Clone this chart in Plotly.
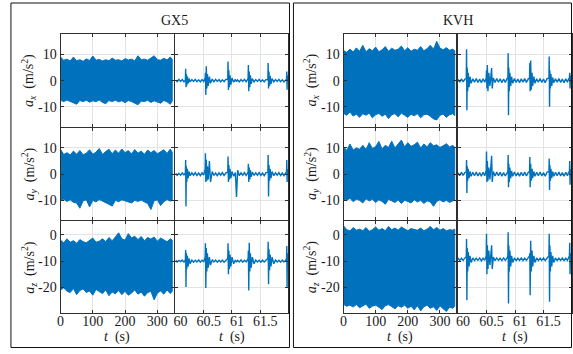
import plotly.graph_objects as go

# ---------------- data ----------------
# long record: envelope (upper / lower) of the dense signal, read every 10 s
t_long = [0, 10, 20, 30, 40, 50, 60, 70, 80, 90,
          100, 110, 120, 130, 140, 150, 160, 170, 180, 190,
          200, 210, 220, 230, 240, 250, 260, 270, 280, 290,
          300, 310, 320, 330, 340, 346]

gx5_ax_up = [9.0, 7.8, 8.2, 7.5, 9.0, 7.6, 8.0, 7.4, 8.3, 7.7,
             9.4, 7.8, 8.1, 7.5, 8.0, 7.6, 8.6, 7.8, 8.0, 7.5,
             8.4, 7.9, 8.2, 7.6, 9.5, 8.0, 8.2, 7.8, 8.6, 9.5,
             8.0, 7.8, 8.5, 7.9, 9.0, 8.2]
gx5_ax_lo = [-7.5, -8.0, -7.4, -7.8, -8.5, -9.0, -7.6, -8.0, -7.5, -8.2,
             -7.7, -8.0, -7.4, -8.3, -8.8, -7.6, -8.0, -7.5, -8.1, -7.7,
             -8.4, -7.6, -8.0, -8.5, -9.2, -7.8, -8.0, -7.5, -8.3, -7.7,
             -8.0, -8.6, -7.6, -8.1, -9.0, -7.8]
gx5_ay_up = [9.5, 7.5, 8.2, 7.3, 8.8, 7.6, 9.0, 7.4, 8.0, 9.3,
             7.6, 8.4, 9.8, 7.5, 8.6, 9.5, 7.8, 9.2, 8.0, 9.6,
             8.2, 9.0, 7.7, 9.4, 8.0, 8.8, 7.6, 9.2, 8.2, 9.0,
             7.8, 8.5, 9.3, 7.9, 9.6, 8.4]
gx5_ay_lo = [-10.0, -9.6, -10.4, -9.8, -10.8, -11.0, -13.0, -10.2, -9.8, -12.5,
             -10.0, -10.6, -9.7, -10.3, -10.8, -11.5, -12.2, -10.0, -10.5, -9.8,
             -10.2, -10.7, -11.0, -10.0, -10.4, -9.9, -10.6, -11.2, -13.5, -10.2,
             -9.8, -12.0, -10.5, -9.7, -10.3, -10.0]
gx5_az_up = [-2.0, -3.0, -1.5, -2.8, -2.2, -3.2, -1.8, -2.6, -3.0, -2.0,
             -1.2, -2.8, -2.4, -1.5, -2.6, -1.0, -2.2, -0.8, 0.8, -1.5,
             -2.0, 0.5, -1.2, -0.5, -1.8, -0.6, -2.2, -1.0, -1.6, -0.8,
             -2.4, -1.2, -1.8, -2.6, -1.5, -2.0]
gx5_az_lo = [-21.0, -20.2, -21.5, -22.0, -20.5, -22.8, -21.2, -20.6, -22.0, -21.4,
             -23.0, -20.8, -21.6, -22.4, -21.0, -23.2, -21.8, -22.5, -21.2, -22.8,
             -21.5, -23.0, -22.2, -21.0, -22.6, -21.8, -23.4, -22.0, -21.5, -24.8,
             -22.2, -21.4, -22.6, -21.0, -22.4, -21.5]

kvh_ax_up = [11.5, 10.8, 12.0, 11.0, 12.5, 11.2, 13.5, 11.0, 12.2, 11.4,
             12.8, 11.0, 11.8, 13.0, 11.2, 12.4, 11.6, 12.0, 13.2, 11.4,
             12.6, 11.2, 12.0, 11.6, 13.0, 11.4, 12.2, 13.5, 12.0, 15.0,
             12.4, 11.8, 12.6, 11.6, 12.0, 11.4]
kvh_ax_lo = [-12.5, -13.2, -12.0, -13.5, -12.8, -14.0, -12.6, -13.2, -12.4, -14.2,
             -13.0, -12.5, -13.6, -12.8, -14.5, -13.0, -12.6, -13.8, -12.4, -13.2,
             -14.0, -12.8, -13.4, -12.6, -14.2, -13.0, -12.8, -13.6, -14.6, -15.0,
             -13.2, -12.8, -14.0, -13.0, -12.6, -13.4]
kvh_ay_up = [10.5, 9.0, 11.5, 9.2, 10.0, 9.5, 11.0, 9.4, 12.0, 9.8,
             10.5, 12.5, 9.6, 11.0, 10.2, 12.6, 10.0, 11.4, 13.0, 10.4,
             12.0, 10.6, 11.2, 12.2, 10.0, 11.5, 10.4, 12.0, 10.8, 11.2,
             10.2, 10.8, 11.6, 10.4, 11.0, 10.2]
kvh_ay_lo = [-9.5, -10.0, -9.2, -10.5, -9.6, -10.0, -11.0, -9.4, -10.2, -9.6,
             -10.8, -9.8, -10.4, -11.5, -9.6, -10.2, -10.8, -9.8, -11.2, -10.0,
             -10.4, -11.0, -9.8, -10.6, -10.0, -11.2, -10.2, -10.6, -12.3, -10.4,
             -9.8, -10.6, -10.0, -10.8, -10.2, -9.8]
kvh_az_up = [3.5, 2.0, 1.5, 2.8, 1.8, 2.2, 1.6, 2.8, 1.4, 2.0,
             3.0, 1.8, 2.4, 1.6, 3.2, 2.0, 2.6, 1.8, 3.0, 2.2,
             1.6, 2.4, 2.0, 1.8, 2.6, 1.6, 2.2, 3.2, 2.0, 2.8,
             1.8, 2.4, 1.6, 2.0, 1.8, 2.2]
kvh_az_lo = [-26.5, -27.2, -26.8, -27.5, -26.6, -27.8, -27.0, -26.4, -28.0, -27.2,
             -26.8, -27.6, -28.5, -27.0, -26.6, -27.4, -28.2, -27.0, -27.6, -26.8,
             -28.0, -27.2, -28.6, -27.0, -29.0, -27.4, -26.8, -28.0, -27.4, -28.8,
             -27.0, -28.2, -29.2, -27.6, -28.0, -27.2]

# zoomed window 60 - 62 s
gx5_t_zoom = [60.00, 60.03, 60.06, 60.09, 60.12, 60.15,
              60.175, 60.18, 60.186, 60.192, 60.2, 60.21, 60.225, 60.24, 60.26,
              60.29, 60.32, 60.35, 60.38, 60.41, 60.44, 60.47, 60.50,
              60.525, 60.53, 60.537, 60.545, 60.555, 60.565, 60.58, 60.6, 60.62, 60.65,
              60.68, 60.71, 60.74, 60.77, 60.80, 60.83, 60.86, 60.89,
              60.925, 60.93, 60.937, 60.945, 60.955, 60.965, 60.98, 61.0, 61.03,
              61.06, 61.08, 61.1, 61.13, 61.16, 61.19, 61.22, 61.25,
              61.285, 61.29, 61.297, 61.305, 61.315, 61.325, 61.34, 61.36, 61.39,
              61.42, 61.45, 61.48, 61.51, 61.54, 61.57, 61.6,
              61.635, 61.64, 61.647, 61.655, 61.665, 61.675, 61.69, 61.71, 61.74,
              61.77, 61.8, 61.83, 61.86, 61.89, 61.92, 61.95,
              61.965, 61.97, 61.975, 61.98]
gx5_ax_zoom = [0.3, -0.4, 0.5, -0.3, 0.4, -0.5,
               0.2, 4.5, -2.5, 2.5, -1.8, 1.6, -1.0, 0.8, -0.5,
               0.4, -0.3, 0.5, -0.4, 0.3, -0.5, 0.4, -0.3,
               1.0, 3.0, -5.5, 5.5, -3.0, 2.5, -2.0, 1.5, -1.0, 0.6,
               -0.4, 0.5, -0.3, 0.4, -0.5, 0.3, -0.4, 0.5,
               0.5, 7.3, -3.6, 4.0, -2.5, 2.0, -1.5, 1.0, -0.6,
               0.5, -0.4, 0.3, -0.5, 0.4, -0.3, 0.5, -0.4,
               0.8, 6.0, -4.0, 3.5, -2.5, 2.0, -1.2, 0.8, -0.5,
               0.4, -0.3, 0.5, -0.4, 0.3, -0.5, 0.4,
               0.5, 6.7, -3.0, 3.5, -2.0, 1.8, -1.2, 0.8, -0.5,
               0.4, -0.3, 0.5, -0.4, 0.3, -0.5, 0.4,
               0.5, 3.5, -3.5, 2.0]
gx5_ay_zoom = [0.4, -0.5, 0.3, -0.4, 0.5, -0.3,
               0.5, 5.4, -12.3, 3.0, -3.0, 2.0, -1.5, 1.0, -0.6,
               0.5, -0.4, 0.6, -0.5, 0.4, -0.6, 0.5, -0.4,
               2.0, 8.0, -3.0, 5.5, -2.5, 3.0, -2.0, 5.0, -3.0, 1.0,
               -0.5, 0.4, -0.6, 0.5, -0.4, 0.6, -0.5, 0.4,
               0.8, 6.7, -3.0, 3.5, -2.0, 2.0, -1.5, 1.0, -0.8,
               0.6, -8.7, 1.5, -0.6, 0.5, -0.4, 0.6, -0.5,
               0.8, 4.0, -3.0, 2.5, -2.0, 1.5, -1.0, 0.8, -0.5,
               0.5, -0.4, 0.6, -0.5, 0.4, -0.6, 0.5,
               0.8, 7.3, -8.5, 3.5, -2.5, 2.0, -1.5, 1.0, -0.6,
               0.5, -0.4, 0.6, -0.5, 0.4, -0.6, 0.5,
               0.8, 5.4, -3.0, 2.0]
gx5_az_zoom = [-9.6, -10.3, -9.7, -10.2, -9.6, -10.4,
               -9.5, -5.8, -19.9, -7.0, -13.0, -8.0, -12.0, -9.0, -11.0,
               -9.6, -10.4, -9.7, -10.3, -9.5, -10.4, -9.7, -10.2,
               -8.5, -3.2, -20.3, -5.0, -14.0, -7.0, -12.5, -8.5, -11.5, -9.5,
               -10.3, -9.6, -10.4, -9.7, -10.3, -9.6, -10.4, -9.7,
               -9.0, -3.2, -15.0, -6.0, -13.0, -7.5, -12.0, -8.5, -11.0,
               -9.6, -10.4, -9.7, -10.3, -9.5, -10.4, -9.7, -10.3,
               -9.0, -6.0, -21.2, -3.0, -14.0, -7.0, -12.5, -8.5, -11.0,
               -9.6, -10.3, -9.7, -10.4, -9.6, -10.3, -9.7,
               -9.0, -2.6, -18.8, -5.5, -13.5, -7.5, -12.0, -8.5, -11.0,
               -9.6, -10.3, -9.7, -10.4, -9.6, -10.3, -9.7,
               -9.0, -4.2, -20.0, -7.0]

kvh_t_zoom = [60.00, 60.03, 60.06, 60.09, 60.12,
              60.145, 60.15, 60.156, 60.162, 60.17, 60.18, 60.195, 60.21, 60.23,
              60.26, 60.29, 60.32, 60.35, 60.38, 60.41, 60.44, 60.47,
              60.495, 60.5, 60.507, 60.515, 60.525, 60.54, 60.56, 60.59, 60.6, 60.62,
              60.65, 60.68, 60.71, 60.74, 60.77, 60.8, 60.83, 60.86,
              60.875, 60.88, 60.886, 60.892, 60.9, 60.91, 60.925, 60.94, 60.96,
              60.99, 61.02, 61.05, 61.08, 61.11, 61.14, 61.17, 61.2, 61.23,
              61.255, 61.26, 61.266, 61.275, 61.285, 61.3, 61.31, 61.33, 61.35,
              61.38, 61.41, 61.44, 61.47, 61.5, 61.53, 61.56,
              61.595, 61.6, 61.606, 61.612, 61.62, 61.63, 61.645, 61.66, 61.68,
              61.71, 61.74, 61.77, 61.8, 61.83, 61.86, 61.89, 61.92, 61.94,
              61.955, 61.96, 61.966, 61.975]
kvh_ax_zoom = [0.5, -0.6, 0.7, -0.5, 0.6,
               0.8, 12.0, -11.3, 5.0, -4.0, 3.0, -2.5, 1.5, -1.0,
               0.7, -0.6, 0.8, -0.7, 0.6, -0.8, 0.7, -0.6,
               1.0, 4.0, -3.0, 6.0, -4.0, 3.0, -2.0, 4.8, -3.0, 1.0,
               -0.7, 0.8, -0.6, 0.7, -0.8, 0.6, -0.7, 0.8,
               1.0, 10.5, -13.2, 5.0, -4.0, 3.0, -2.0, 1.5, -1.0,
               0.8, -0.7, 0.6, -0.8, 0.7, -0.6, 0.8, -0.7, 0.6,
               1.0, 6.7, -4.0, 7.7, -3.5, 3.0, -2.0, 1.5, -1.0,
               0.7, -0.6, 0.8, -0.7, 0.6, -0.8, 0.7,
               1.0, 9.2, -10.0, 4.0, -3.0, 2.5, -2.0, 1.2, -0.8,
               0.7, -0.6, 0.8, -0.7, 0.6, -0.8, 0.7, -0.6, 0.7,
               1.0, 3.0, -3.0, 2.0]
kvh_ay_zoom = [0.5, -0.6, 0.7, -0.5, 0.6,
               0.8, 5.4, -7.2, 3.0, -2.5, 2.0, -1.5, 1.0, -0.8,
               0.7, -0.6, 0.8, -0.7, 0.6, -0.8, 0.7, -0.6,
               1.5, 8.6, -3.0, 5.0, -2.5, 2.5, -2.0, 7.0, -3.0, 1.0,
               -0.7, 0.8, -0.6, 0.7, -0.8, 0.6, -0.7, 0.8,
               1.0, 7.3, -5.0, 4.0, -3.0, 2.5, -1.5, 1.2, -0.8,
               0.8, -0.7, 0.6, -0.8, 0.7, -0.6, 0.8, -0.7, 0.6,
               1.0, 6.5, -5.0, 4.0, -2.5, 2.0, -1.5, 1.0, -0.8,
               0.7, -0.6, 0.8, -0.7, 0.6, -0.8, 0.7,
               1.0, 6.0, -6.0, 3.5, -2.5, 2.0, -1.5, 1.0, -0.8,
               0.7, -0.6, 0.8, -0.7, 0.6, -0.8, 0.7, -0.6, 0.7,
               1.0, 5.0, -4.0, 2.0]
kvh_az_zoom = [-8.8, -9.8, -8.9, -9.7, -8.8,
               -8.5, -1.6, -24.9, -5.0, -14.0, -6.5, -12.0, -8.0, -10.5,
               -8.8, -9.8, -8.9, -9.7, -8.8, -9.9, -8.9, -9.7,
               -8.0, 0.4, -15.0, -4.0, -13.0, -6.0, -11.5, -4.0, -13.0, -8.5,
               -9.8, -8.8, -9.7, -8.9, -9.8, -8.8, -9.7, -8.9,
               -8.0, 1.0, -26.2, -4.0, -14.0, -6.0, -12.0, -8.0, -10.5,
               -8.8, -9.8, -8.9, -9.7, -8.8, -9.8, -8.9, -9.7, -8.8,
               -8.0, -7.0, -23.0, -2.2, -14.0, -6.0, -12.0, -8.0, -10.5,
               -8.8, -9.8, -8.9, -9.7, -8.8, -9.8, -8.9,
               -8.0, 0.4, -25.5, -4.0, -14.0, -6.5, -12.0, -8.0, -10.5,
               -8.8, -9.8, -8.9, -9.7, -8.8, -9.8, -8.9, -9.7, -8.8,
               -8.0, -3.0, -15.0, -7.0]

sensors = ["GX5", "KVH"]
axis_names = ["x", "y", "z"]
y_tickvals = [[-10, 0, 10], [-10, 0, 10], [-20, -10, 0]]
y_ticktext = [["-10", "0", "10"], ["-10", "0", "10"], ["-20", "-10", "0"]]
x_long_ticks = [0, 100, 200, 300]
x_zoom_ticks = [60, 60.5, 61, 61.5]
x_zoom_ticktext = ["60", "60.5", "61", "61.5"]

long_env = {
    "GX5": [(gx5_ax_up, gx5_ax_lo), (gx5_ay_up, gx5_ay_lo), (gx5_az_up, gx5_az_lo)],
    "KVH": [(kvh_ax_up, kvh_ax_lo), (kvh_ay_up, kvh_ay_lo), (kvh_az_up, kvh_az_lo)],
}
zoom_t = {"GX5": gx5_t_zoom, "KVH": kvh_t_zoom}
zoom_y = {"GX5": [gx5_ax_zoom, gx5_ay_zoom, gx5_az_zoom],
          "KVH": [kvh_ax_zoom, kvh_ay_zoom, kvh_az_zoom]}

# ---------------- layout geometry ----------------
W, H = 573, 354
def dx(a, b):
    return [a / W, b / W]
def dy(top, bot):
    return [1 - bot / H, 1 - top / H]

col_dom = {"GX5": [dx(57, 171), dx(173, 287)],
           "KVH": [dx(342.5, 456), dx(458, 573)]}
row_px = [(34, 126.5), (127.5, 220), (221, 313)]
row_dom = [dy(*r) for r in row_px]
y_ranges = [[-17.5, 17.8], [-17.5, 17.8], [-29.8, 5.3]]
x_ranges = [[0, 350], [60, 62]]

BLUE = "#0072BD"
FRAME = "#303030"
GRID = "#e3e3e3"
SERIF = "Liberation Serif"
TXT = "#1a1a1a"

fig = go.Figure()
layout = dict(width=W, height=H, margin=dict(l=0, r=0, t=0, b=0),
              paper_bgcolor="white", plot_bgcolor="white", showlegend=False,
              font=dict(family=SERIF, size=13, color=TXT))
annotations = []
shapes = []

k = 0
for s in sensors:
    for r in range(3):
        for c in range(2):
            k += 1
            xa = "x" if k == 1 else f"x{k}"
            ya = "y" if k == 1 else f"y{k}"
            xkey = "xaxis" if k == 1 else f"xaxis{k}"
            ykey = "yaxis" if k == 1 else f"yaxis{k}"
            if c == 0:
                up, lo = long_env[s][r]
                fig.add_trace(go.Scatter(
                    x=t_long + t_long[::-1], y=up + lo[::-1],
                    fill="toself", fillcolor=BLUE, mode="lines",
                    line=dict(color=BLUE, width=1), xaxis=xa, yaxis=ya,
                    hoverinfo="skip"))
                xt = dict(tickvals=x_long_ticks,
                          ticktext=[str(v) for v in x_long_ticks])
            else:
                fig.add_trace(go.Scatter(
                    x=zoom_t[s], y=zoom_y[s][r], mode="lines",
                    line=dict(color=BLUE, width=1.4), xaxis=xa, yaxis=ya,
                    hoverinfo="skip"))
                xt = dict(tickvals=x_zoom_ticks, ticktext=x_zoom_ticktext,
                          ticklabelshift=5)
            layout[xkey] = dict(domain=col_dom[s][c], anchor=ya,
                                range=x_ranges[c], showgrid=True,
                                gridcolor=GRID, gridwidth=1, zeroline=False,
                                showline=True, linecolor=FRAME, linewidth=1,
                                mirror="ticks", ticks="inside", ticklen=3,
                                tickcolor=FRAME, showticklabels=(r == 2),
                                ticklabelstandoff=-5,
                                tickfont=dict(family=SERIF, size=14, color=TXT),
                                fixedrange=True, **xt)
            layout[ykey] = dict(domain=row_dom[r], anchor=xa,
                                range=y_ranges[r], tickvals=y_tickvals[r],
                                ticktext=y_ticktext[r], showgrid=True,
                                gridcolor=GRID, gridwidth=1, zeroline=False,
                                showline=True, linecolor=FRAME, linewidth=1,
                                mirror="ticks", ticks="inside", ticklen=3,
                                tickcolor=FRAME, showticklabels=(c == 0),
                                tickfont=dict(family=SERIF, size=14, color=TXT),
                                fixedrange=True)

# panel titles, axis labels, panel frames
panel_x = {"GX5": (7, 288), "KVH": (292, 572.5)}
title_x = {"GX5": 172, "KVH": 458}
ylab_x = {"GX5": 25, "KVH": 310}
for s in sensors:
    x0, x1 = panel_x[s]
    shapes.append(dict(type="rect", xref="paper", yref="paper",
                       x0=x0 / W, x1=x1 / W, y0=1 - 347.5 / H, y1=1 - 3 / H,
                       line=dict(color="#111111", width=1), layer="above"))
    annotations.append(dict(text=s, x=title_x[s] / W, y=1 - 20 / H,
                            xref="paper", yref="paper", showarrow=False,
                            xanchor="center", yanchor="middle",
                            font=dict(family=SERIF, size=14, color=TXT)))
    for r in range(3):
        cy = (row_px[r][0] + row_px[r][1]) / 2
        annotations.append(dict(
            text=f"<i>a</i><sub><i>{axis_names[r]}</i></sub>  (m/s<sup>2</sup>)",
            x=ylab_x[s] / W, y=1 - cy / H, xref="paper", yref="paper",
            showarrow=False, textangle=-90, xanchor="center", yanchor="middle",
            font=dict(family=SERIF, size=14, color=TXT)))
    for c in range(2):
        d = col_dom[s][c]
        annotations.append(dict(
            text="<i>t</i>  (s)", x=(d[0] + d[1]) / 2, y=1 - 337 / H,
            xref="paper", yref="paper", showarrow=False,
            xanchor="center", yanchor="middle",
            font=dict(family=SERIF, size=14, color=TXT)))

layout["annotations"] = annotations
layout["shapes"] = shapes
fig.update_layout(**layout)
fig.write_html("out.html")
